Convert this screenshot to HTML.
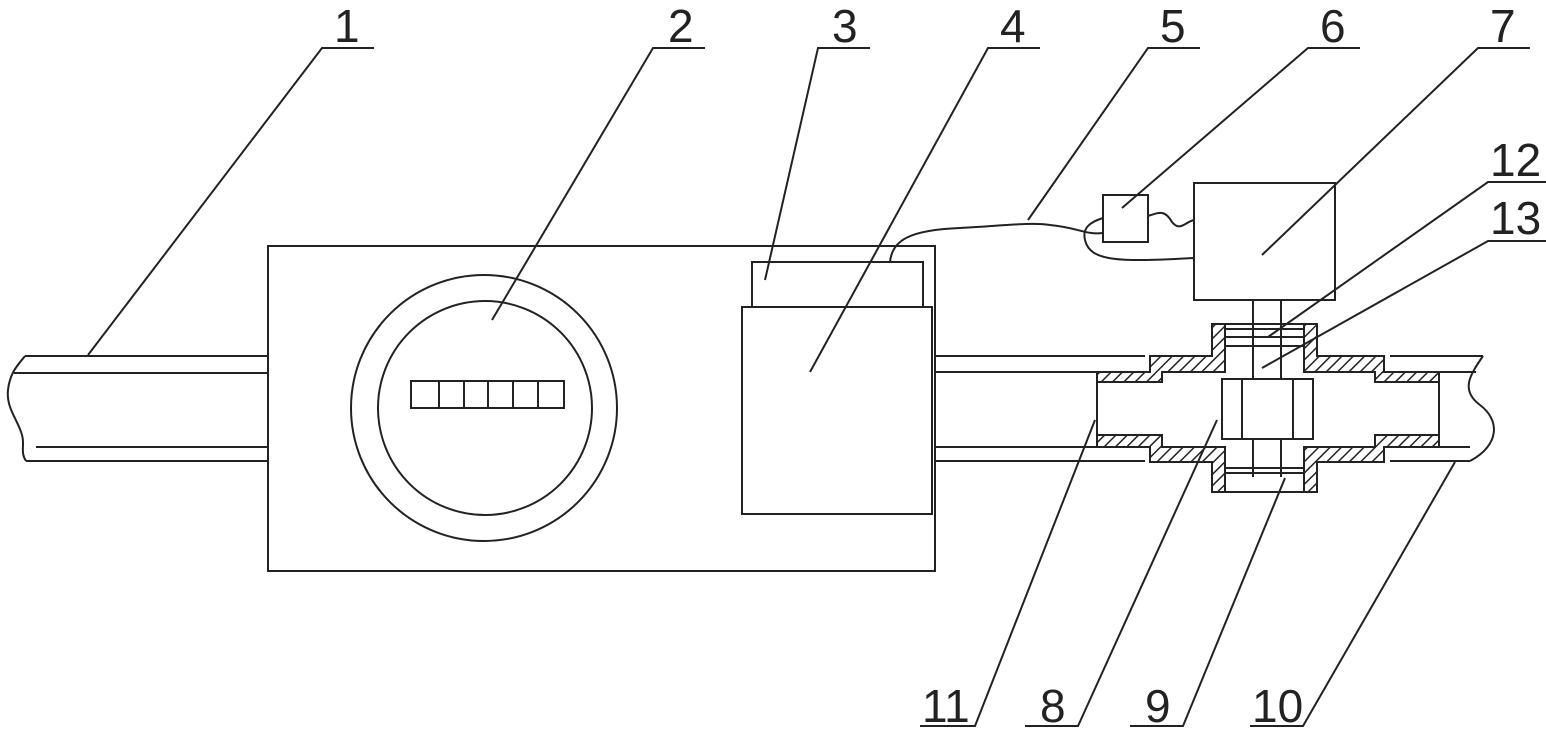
<!DOCTYPE html>
<html><head><meta charset="utf-8"><style>
html,body{margin:0;padding:0;background:#fff;}
svg{display:block}
text{font-family:"Liberation Sans",sans-serif;font-size:46px;fill:#222;}
</style></head><body>
<svg width="1546" height="732" viewBox="0 0 1546 732" xmlns="http://www.w3.org/2000/svg">
<defs>
<pattern id="h" patternUnits="userSpaceOnUse" width="8" height="8" patternTransform="rotate(45)">
<rect width="8" height="8" fill="#fff"/><line x1="0" y1="0" x2="0" y2="8" stroke="#222" stroke-width="3"/>
</pattern>
</defs>
<g fill="none" stroke="#222" stroke-width="2">
<path d="M25 356H268M14 373H268M36 447H268M26 461H268"/>
<path d="M25 356C18 365 10 372 8 390C6 408 18 420 22 435C25 445 20 452 26 461"/>
<rect x="268" y="246" width="667" height="325"/>
<circle cx="484" cy="408" r="133"/>
<circle cx="485" cy="408" r="107"/>
<rect x="411" y="381" width="153" height="27"/>
<path d="M439 381V408M464 381V408M488 381V408M513 381V408M538 381V408"/>
<rect x="752" y="262" width="171" height="45"/>
<rect x="742" y="307" width="190" height="207"/>
<path d="M935 356H1145M935 372H1097M935 447H1097M935 461H1145"/>
<path d="M1390 356H1483M1439 372H1476M1439 447H1470M1390 461H1470"/>
<path d="M1483 356C1470 375 1460 390 1480 405C1500 420 1500 445 1470 461"/>
<path d="M890 262C892 240 910 230 960 228C1000 226 1030 222 1050 225C1080 228 1085 235 1103 233"/>
<path d="M1103 218C1090 222 1082 228 1085 240C1090 262 1120 262 1194 258"/>
<path d="M1148 216C1160 212 1165 210 1172 222C1180 232 1185 222 1194 220"/>
<rect x="1103" y="195" width="45" height="47"/>
<rect x="1194" y="183" width="141" height="117"/>
<path d="M1253 300V477M1281 300V477"/>
</g>
<g fill="url(#h)" stroke="#222" stroke-width="2">
<path d="M1150 356H1212V324H1225V372H1162V382H1097V372H1150Z"/>
<path d="M1304 324H1317V356H1384V372H1439V382H1375V372H1304Z"/>
<path d="M1150 462H1212V492H1225V447H1162V435H1097V447H1150Z"/>
<path d="M1304 492H1317V462H1384V447H1439V435H1375V447H1304Z"/>
</g>
<g fill="none" stroke="#222" stroke-width="2">
<path d="M1225 324H1304M1225 329H1304M1225 337H1304M1225 346H1304"/>
<path d="M1225 468H1304M1225 473H1304M1225 492H1304"/>
<path d="M1097 382V435M1439 382V435"/>
<rect x="1222" y="379" width="91" height="60" fill="#fff"/>
<path d="M1242 379V439M1293 379V439"/>
</g>
<g fill="none" stroke="#222" stroke-width="2">
<path d="M374 48H322L88 355"/>
<path d="M705 48H653L492 320"/>
<path d="M870 48H818L765 280"/>
<path d="M1040 48H988L810 372"/>
<path d="M1200 48H1148L1028 220"/>
<path d="M1360 48H1308L1122 208"/>
<path d="M1530 48H1478L1262 255"/>
<path d="M1546 182H1488L1268 337"/>
<path d="M1546 241H1488L1262 368"/>
<path d="M920 726H975L1095 420"/>
<path d="M1025 726H1078L1217 420"/>
<path d="M1130 726H1183L1285 478"/>
<path d="M1250 726H1303L1455 462"/>
</g>
<g>
<text x="334" y="42">1</text>
<text x="668" y="42">2</text>
<text x="832" y="42">3</text>
<text x="1000" y="42">4</text>
<text x="1160" y="42">5</text>
<text x="1320" y="42">6</text>
<text x="1490" y="42">7</text>
<text x="1490" y="176">12</text>
<text x="1490" y="234">13</text>
<text x="922" y="722">11</text>
<text x="1040" y="722">8</text>
<text x="1145" y="722">9</text>
<text x="1252" y="722">10</text>
</g>
</svg>
</body></html>
